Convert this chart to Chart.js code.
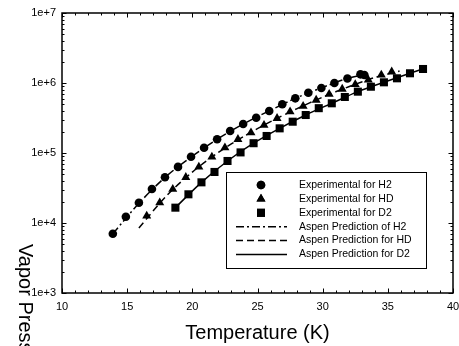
<!DOCTYPE html>
<html>
<head>
<meta charset="utf-8">
<script src="https://cdn.jsdelivr.net/npm/chart.js@4/dist/chart.umd.min.js"></script>
<style>
  body { margin: 0; background: #fff; }
  #wrap { width: 459px; height: 346px; position: relative; }
</style>
</head>
<body>
<div id="wrap"><canvas id="chart"></canvas></div>
<script>
// experimental points (temperature in K, vapor pressure in Pa)
const h2Temp = [13.9, 14.9, 15.9, 16.9, 17.9, 18.9, 19.9, 20.9, 21.9, 22.9, 23.9, 24.9, 25.9, 26.9, 27.9, 28.9, 29.9, 30.9, 31.9, 32.9, 33.2];
const h2Exp = [7030, 12300, 19500, 30600, 45000, 63300, 88500, 119000, 157000, 206000, 259000, 319000, 398000, 497000, 604000, 725000, 849000, 1000000, 1160000, 1330000, 1300000];

const hdTemp = [16.5, 17.5, 18.5, 19.5, 20.5, 21.5, 22.5, 23.5, 24.5, 25.5, 26.5, 27.5, 28.5, 29.5, 30.5, 31.5, 32.5, 33.5, 34.5, 35.3];
const hdExp = [12600, 19500, 30400, 45000, 63300, 87700, 119000, 157000, 195000, 250000, 313000, 389000, 468000, 571000, 692000, 820000, 955000, 1104000, 1300000, 1445000];

const d2Temp = [18.7, 19.7, 20.7, 21.7, 22.7, 23.7, 24.7, 25.7, 26.7, 27.7, 28.7, 29.7, 30.7, 31.7, 32.7, 33.7, 34.7, 35.7, 36.7, 37.7];
const d2Exp = [16560, 25700, 38100, 53600, 76900, 102000, 138000, 175000, 225000, 280000, 349000, 437000, 513000, 631000, 752000, 885000, 1023000, 1167000, 1377000, 1585000];

// Aspen prediction curves
const h2PredTemp = [13.9, 16, 18, 20, 22, 24, 26, 28, 30, 32, 33.2];
const h2Pred = [7030, 20000, 46500, 90000, 161000, 265000, 408000, 615000, 865000, 1180000, 1310000];

const hdPredTemp = [15.9, 18, 20, 22, 24, 26, 28, 30, 32, 34, 35.9];
const hdPred = [8500, 24300, 53400, 102000, 175000, 280000, 427000, 628000, 885000, 1198000, 1480000];

const d2PredTemp = [18.7, 20.7, 22.7, 24.7, 26.7, 28.7, 30.7, 32.7, 34.7, 36.7, 37.7];
const d2Pred = [16560, 38100, 76900, 138000, 225000, 349000, 513000, 752000, 1023000, 1377000, 1585000];

const xTicks = [10, 15, 20, 25, 30, 35, 40];
const yTicks = [1e3, 1e4, 1e5, 1e6, 1e7];
const yTickLabels = ['1e+3', '1e+4', '1e+5', '1e+6', '1e+7'];

const legendLabels = [
  'Experimental for H2', 'Experimental for HD', 'Experimental for D2',
  'Aspen Prediction of H2', 'Aspen Prediction for HD', 'Aspen Prediction for D2'
];

const FONT = "'Liberation Sans', Arial, sans-serif";

const toPts = (xs, ys) => xs.map((x, i) => ({ x: x, y: ys[i] }));

const pointSet = (label, xs, ys, style, r) => ({
  label: label,
  data: toPts(xs, ys),
  pointStyle: style,
  pointRadius: r,
  pointHoverRadius: r,
  backgroundColor: '#000',
  borderColor: '#000',
  borderWidth: 0,
  showLine: false
});

const lineSet = (label, xs, ys, dash) => ({
  label: label,
  data: toPts(xs, ys),
  showLine: true,
  pointRadius: 0,
  borderColor: '#000',
  borderWidth: 1.5,
  borderDash: dash,
  fill: false,
  tension: 0.3
});

const datasets = [
  pointSet(legendLabels[0], h2Temp, h2Exp, 'circle', 4.3),
  pointSet(legendLabels[1], hdTemp, hdExp, 'triangle', 5.2),
  pointSet(legendLabels[2], d2Temp, d2Exp, 'rect', 5.7),
  lineSet(legendLabels[3], h2PredTemp, h2Pred, [8, 3, 2, 3]),
  lineSet(legendLabels[4], hdPredTemp, hdPred, [7, 4]),
  lineSet(legendLabels[5], d2PredTemp, d2Pred, [])
];

// frame, inward ticks, y title and the boxed legend
const decorations = {
  id: 'decorations',
  afterDraw(chart) {
    const ctx = chart.ctx;
    const a = chart.chartArea;
    const xs = chart.scales.x, ys = chart.scales.y;
    ctx.save();
    ctx.strokeStyle = '#000';
    ctx.lineWidth = 1.5;
    ctx.strokeRect(a.left, a.top, a.right - a.left, a.bottom - a.top);

    ctx.lineWidth = 1;
    ctx.beginPath();
    for (let v = 10; v <= 40; v++) {
      const px = Math.round(xs.getPixelForValue(v)) + 0.5;
      const len = v % 5 === 0 ? 4.5 : 2.5;
      ctx.moveTo(px, a.bottom); ctx.lineTo(px, a.bottom - len);
      ctx.moveTo(px, a.top); ctx.lineTo(px, a.top + len);
    }
    for (let d = 3; d <= 7; d++) {
      for (let k = 1; k <= 9; k++) {
        const v = k * Math.pow(10, d);
        if (v > 1e7) break;
        const py = Math.round(ys.getPixelForValue(v)) + 0.5;
        const len = k === 1 ? 4.5 : 2.5;
        ctx.moveTo(a.left, py); ctx.lineTo(a.left + len, py);
        ctx.moveTo(a.right, py); ctx.lineTo(a.right - len, py);
      }
    }
    ctx.stroke();

    // y title, turned clockwise as in the reference
    ctx.save();
    ctx.translate(19, 244);
    ctx.rotate(Math.PI / 2);
    ctx.fillStyle = '#000';
    ctx.font = '20px ' + FONT;
    ctx.textBaseline = 'alphabetic';
    ctx.textAlign = 'left';
    ctx.fillText('Vapor Pressure (Pa)', 0, 0);
    ctx.restore();

    // legend
    const bx = 226, by = 172, bw = 200, bh = 96;
    ctx.fillStyle = '#fff';
    ctx.fillRect(bx, by, bw, bh);
    ctx.lineWidth = 1;
    ctx.strokeRect(bx + 0.5, by + 0.5, bw, bh);
    ctx.font = '10.5px ' + FONT;
    ctx.textBaseline = 'middle';
    ctx.fillStyle = '#000';
    chart.data.datasets.forEach((ds, i) => {
      const y = by + 13 + i * 13.9;
      if (i < 3) {
        Chart.helpers.drawPoint(ctx, {
          pointStyle: ds.pointStyle, radius: ds.pointRadius, rotation: 0, borderWidth: 0
        }, 261, y);
        ctx.fill();
      } else {
        ctx.save();
        ctx.beginPath();
        ctx.lineWidth = 1.5;
        ctx.setLineDash(ds.borderDash);
        ctx.moveTo(236, y); ctx.lineTo(287, y);
        ctx.stroke();
        ctx.restore();
      }
      ctx.fillText(ds.label, 299, y);
    });
    ctx.restore();
  }
};

new Chart(document.getElementById('chart'), {
  type: 'scatter',
  data: { datasets: datasets },
  options: {
    responsive: true,
    maintainAspectRatio: false,
    animation: false,
    layout: { padding: { left: 0, right: 6, top: 13, bottom: 0 } },
    plugins: {
      legend: { display: false },
      tooltip: { enabled: false }
    },
    scales: {
      x: {
        type: 'linear',
        min: 10,
        max: 40,
        afterBuildTicks: s => { s.ticks = xTicks.map(v => ({ value: v })); },
        afterFit: s => { s.height = 53; s.paddingLeft = 0; s.paddingRight = 0; },
        grid: { display: false, drawTicks: false },
        border: { display: false },
        ticks: { color: '#000', font: { family: FONT, size: 11 }, padding: 7, maxRotation: 0 },
        title: {
          display: true,
          text: 'Temperature (K)',
          color: '#000',
          font: { family: FONT, size: 20 },
          padding: { top: 0, bottom: 1 }
        }
      },
      y: {
        type: 'logarithmic',
        min: 1e3,
        max: 1e7,
        afterBuildTicks: s => { s.ticks = yTicks.map(v => ({ value: v })); },
        afterFit: s => { s.width = 62; s.paddingTop = 0; s.paddingBottom = 0; },
        grid: { display: false, drawTicks: false },
        border: { display: false },
        ticks: {
          color: '#000',
          font: { family: FONT, size: 11 },
          padding: 6,
          callback: v => yTickLabels[yTicks.indexOf(v)]
        }
      }
    }
  },
  plugins: [decorations]
});
</script>
</body>
</html>
